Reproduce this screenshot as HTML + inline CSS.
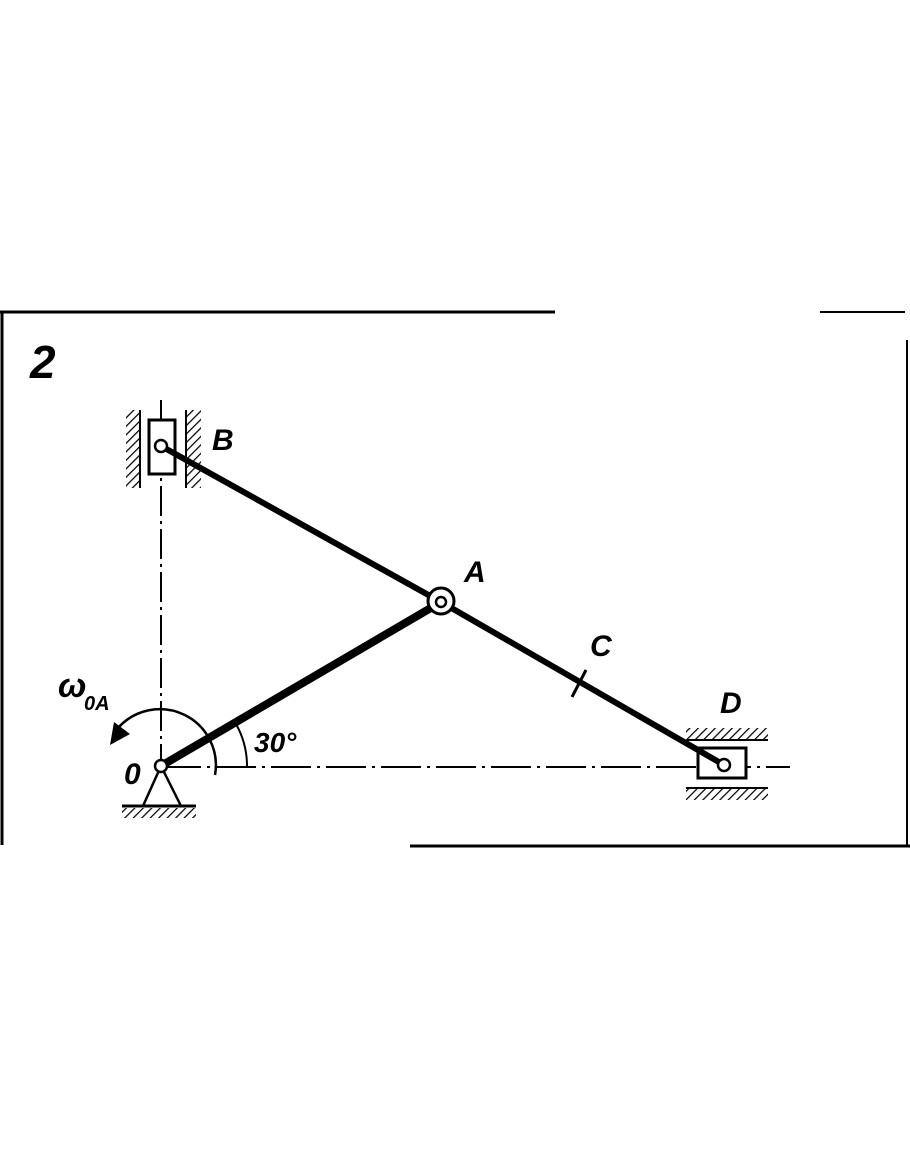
<!DOCTYPE html>
<html><head><style>html,body{margin:0;padding:0;background:#fff;}svg{display:block}</style></head>
<body>
<svg width="910" height="1155" viewBox="0 0 910 1155" xmlns="http://www.w3.org/2000/svg">
<defs>
<pattern id="h" width="6" height="6" patternUnits="userSpaceOnUse" patternTransform="rotate(45)">
<line x1="0" y1="0" x2="0" y2="6" stroke="#000" stroke-width="2.5"/>
</pattern>
</defs>
<g stroke="#000" fill="none">
<line x1="0" y1="312" x2="555" y2="312" stroke-width="3"/>
<line x1="820" y1="312" x2="905" y2="312" stroke-width="2"/>
<line x1="2" y1="312" x2="2" y2="845" stroke-width="3"/>
<line x1="907" y1="340" x2="907" y2="845" stroke-width="2"/>
<line x1="410" y1="846" x2="910" y2="846" stroke-width="3"/>
<line x1="161" y1="400" x2="161" y2="766" stroke-width="2" stroke-dasharray="30 5 3 5"/>
<line x1="161" y1="767" x2="790" y2="767" stroke-width="2" stroke-dasharray="40 6 3 6"/>
<rect x="126" y="410" width="14" height="78" fill="url(#h)" stroke="none"/>
<line x1="140" y1="410" x2="140" y2="488" stroke-width="2"/>
<rect x="187" y="410" width="14" height="78" fill="url(#h)" stroke="none"/>
<line x1="186" y1="410" x2="186" y2="488" stroke-width="2"/>
<rect x="149" y="420" width="26" height="54" stroke-width="3" fill="#fff"/>
<rect x="686" y="728" width="82" height="11" fill="url(#h)" stroke="none"/>
<line x1="686" y1="740" x2="768" y2="740" stroke-width="2"/>
<rect x="686" y="789" width="82" height="11" fill="url(#h)" stroke="none"/>
<line x1="686" y1="788" x2="768" y2="788" stroke-width="2"/>
<rect x="698" y="748" width="48" height="30" stroke-width="3" fill="#fff"/>
<polyline points="143,806 161,766 181,806" stroke-width="2.5"/>
<line x1="122" y1="806" x2="196" y2="806" stroke-width="3"/>
<rect x="122" y="808" width="74" height="10" fill="url(#h)" stroke="none"/>
<line x1="161" y1="766" x2="441" y2="602" stroke-width="8"/>
<line x1="161" y1="446" x2="441" y2="602" stroke-width="6"/>
<line x1="441" y1="602" x2="724" y2="765" stroke-width="6"/>
<line x1="572" y1="697" x2="586" y2="670" stroke-width="3"/>
<path d="M 247 767 A 86 86 0 0 0 236 724" stroke-width="2"/>
<path d="M 215 775 A 56 56 0 0 0 118 728" stroke-width="2.5"/>
<polygon points="110,745 114,722 130,734" fill="#000" stroke="none"/>
<circle cx="441" cy="601" r="13" fill="#fff" stroke-width="3"/>
<circle cx="441" cy="602" r="5" fill="#fff" stroke-width="2.5"/>
<circle cx="161" cy="446" r="6" fill="#fff" stroke-width="2.5"/>
<circle cx="161" cy="766" r="6" fill="#fff" stroke-width="2.5"/>
<circle cx="724" cy="765" r="6" fill="#fff" stroke-width="2.5"/>
</g>
<g font-family="Liberation Sans, sans-serif" font-style="italic" font-weight="bold" fill="#000">
<text x="30" y="378" font-size="46">2</text>
<text x="212" y="450" font-size="30">B</text>
<text x="464" y="582" font-size="30">A</text>
<text x="590" y="656" font-size="30">C</text>
<text x="720" y="713" font-size="30">D</text>
<text x="124" y="784" font-size="30">0</text>
<text x="254" y="752" font-size="28">30°</text>
<text x="58" y="697" font-size="34">ω</text>
<text x="84" y="710" font-size="20">0A</text>
</g>
</svg>
</body></html>
